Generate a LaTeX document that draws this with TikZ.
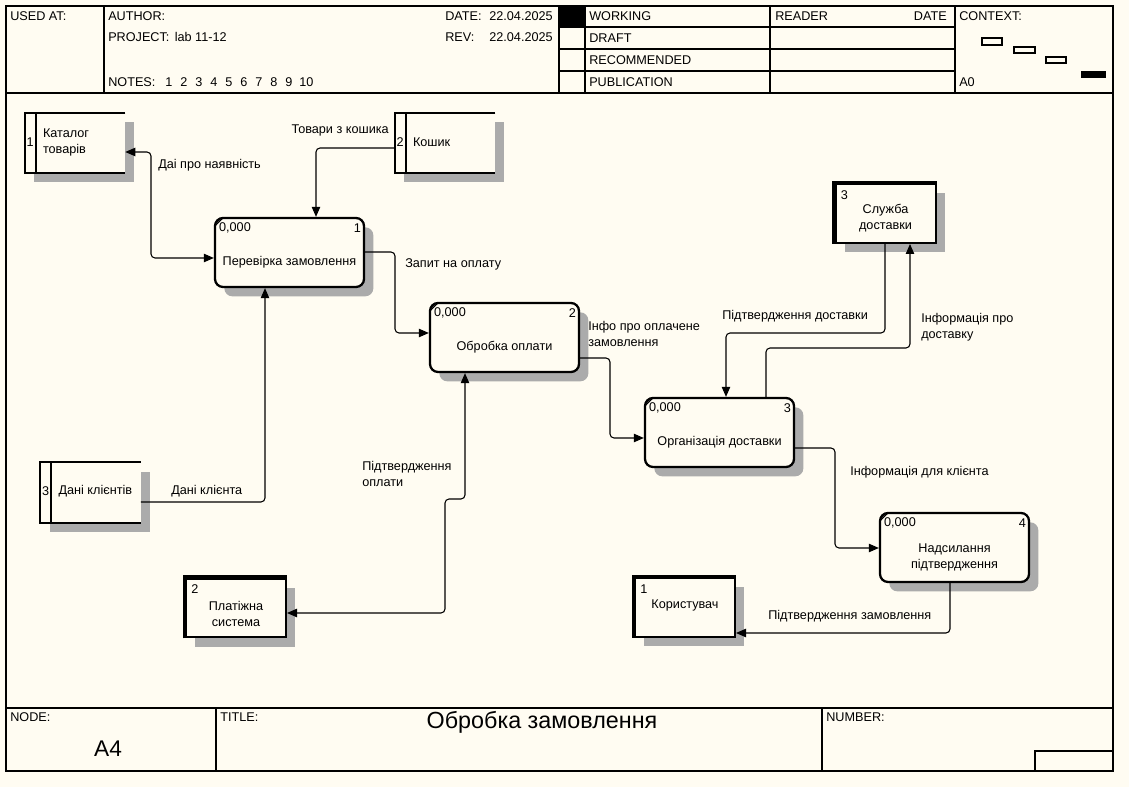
\documentclass[tikz,border=0pt]{standalone}
\usepackage{fontspec}
\setmainfont{Liberation Sans}
\usetikzlibrary{arrows.meta,shadows,calc}
\definecolor{bg}{RGB}{255,252,242}
\begin{document}
\begin{tikzpicture}[x=0.75pt,y=-0.75pt,
  txt/.style={font=\fontsize{9.5}{12}\selectfont, inner sep=0pt, align=left},
  frame/.style={line width=1pt},
  flow/.style={line width=0.8pt, rounded corners=3pt},
  >={Triangle[length=7.5pt,width=6.3pt]},
  shd/.style={drop shadow={shadow xshift=7pt, shadow yshift=-7pt, fill=black!33, opacity=1}},
  proc/.style={rectangle, rounded corners=6pt, draw, line width=1.7pt, fill=bg,
    minimum width=111.75pt, minimum height=51.75pt, inner sep=0pt, shd},
  store/.style={rectangle, draw=none, fill=bg, minimum width=75pt, minimum height=45pt,
    inner sep=0pt, shd},
  storeline/.style={line width=1.5pt},
  ent/.style={rectangle, draw, line width=1.5pt, fill=bg, minimum width=75pt,
    minimum height=44.25pt, inner sep=0pt, shd},
  entthick/.style={line width=3.2pt},
  cornertick/.style={line width=1pt}
]
\fill[bg] (0,0) rectangle (1129,787);
\useasboundingbox (0,0) rectangle (1129,787);

% ---------- frame ----------
\draw[frame] (6,6) rectangle (1113,771);
\draw[frame] (6,93) -- (1113,93);
\draw[frame] (6,708) -- (1113,708);
\foreach \xx in {104,559,585,770,955} \draw[frame] (\xx,6) -- (\xx,93);
\foreach \yy in {27,49,71} \draw[frame] (559,\yy) -- (955,\yy);
\fill (559,6) rectangle (585,27);
\draw[frame] (216,708) -- (216,771);
\draw[frame] (822,708) -- (822,771);
\draw[frame] (1035,771) -- (1035,751) -- (1113,751);
% context
\draw[line width=0.8pt] (982,38) rectangle (1002,45);
\draw[line width=0.8pt] (1014,47) rectangle (1035,53);
\draw[line width=0.8pt] (1046,57) rectangle (1066,63);
\fill (1081,71) rectangle (1106,78);

% ---------- header text ----------
\node[txt, anchor=west] (usedat) at (10,16) {USED AT:};
\node[txt, anchor=west] (author) at (108,16) {AUTHOR:};
\node[txt, anchor=west] (project) at (108,37) {PROJECT:\hspace{4pt}lab 11-12};
\node[txt, anchor=west] (notes) at (108,82) {NOTES:};
\foreach \n/\xx in {1/165,2/180,3/195,4/210,5/225,6/240,7/255,8/270,9/285,10/299}
  \node[txt, anchor=west] (note\n) at (\xx,82) {\n};
\node[txt, anchor=west] (date) at (445,16) {DATE:};
\node[txt, anchor=east] (datev) at (553,16) {22.04.2025};
\node[txt, anchor=west] (rev) at (445,37) {REV:};
\node[txt, anchor=east] (revv) at (553,37) {22.04.2025};
\node[txt, anchor=west] (working) at (589,16) {WORKING};
\node[txt, anchor=west] (draft) at (589,38) {DRAFT};
\node[txt, anchor=west] (recom) at (589,60) {RECOMMENDED};
\node[txt, anchor=west] (public) at (589,82) {PUBLICATION};
\node[txt, anchor=west] (reader) at (775,16) {READER};
\node[txt, anchor=east] (rdate) at (947,16) {DATE};
\node[txt, anchor=west] (context) at (959,16) {CONTEXT:};
\node[txt, anchor=west] (azero) at (959,82) {A0};

% ---------- footer text ----------
\node[txt, anchor=west] (nodelbl) at (10,717) {NODE:};
\node[txt, anchor=west] (titlelbl) at (220,717) {TITLE:};
\node[txt, anchor=west] (numlbl) at (826,717) {NUMBER:};
\node[txt, font=\fontsize{17}{20}\selectfont] (nodeval) at (108,749) {A4};
\node[txt, font=\fontsize{17.5}{20}\selectfont] (title) at (542,722) {Обробка замовлення};

% ---------- data stores ----------
\foreach \nm/\cx/\cy in {S1/75/143, S2/445/143, S3/90.5/492.5} {
  \node[store] (\nm) at (\cx,\cy) {};
  \draw[storeline] (\nm.north east) -- (\nm.north west) -- (\nm.south west) -- (\nm.south east);
  \draw[storeline] ($(\nm.north west)+(11,0)$) -- ($(\nm.south west)+(11,0)$);
}
\node[txt] (s1n) at ($(S1.west)+(5.5,-1)$) {1};
\node[txt, anchor=west] (s1t) at ($(S1.west)+(18,-1)$) {Каталог\\товарів};
\node[txt] (s2n) at ($(S2.west)+(5.5,-1)$) {2};
\node[txt, anchor=west] (s2t) at ($(S2.west)+(18,-1)$) {Кошик};
\node[txt] (s3n) at ($(S3.west)+(5.5,-1)$) {3};
\node[txt, anchor=west] (s3t) at ($(S3.west)+(18,-1)$) {Дані клієнтів};

% ---------- processes ----------
\node[proc] (P1) at (289.5,252.5) {};
\node[proc] (P2) at (504.5,337.5) {};
\node[proc] (P3) at (719.5,432.5) {};
\node[proc] (P4) at (954.5,547.5) {};
\foreach \p/\k in {P1/1,P2/2,P3/3,P4/4} {
  \draw[cornertick] ($(\p.north west)+(1,9)$) -- ($(\p.north west)+(9,1)$);
  \node[txt, anchor=west] (\p c) at ($(\p.north west)+(5,11)$) {0,000};
  \node[txt, anchor=east] (\p k) at ($(\p.north east)+(-4,11)$) {\k};
}
\node[txt, align=center] (P1t) at ($(P1.center)+(0,10)$) {Перевірка замовлення};
\node[txt, align=center] (P2t) at ($(P2.center)+(0,10)$) {Обробка оплати};
\node[txt, align=center] (P3t) at ($(P3.center)+(0,10)$) {Організація доставки};
\node[txt, align=center] (P4t) at ($(P4.center)+(0,10)$) {Надсилання\\підтвердження};

% ---------- external entities ----------
\node[ent] (E1) at (685,607.5) {};
\node[ent] (E2) at (236,608) {};
\node[ent] (E3) at (885.5,213.5) {};
\foreach \e in {E1,E2,E3}
  \draw[entthick] (\e.south west) -- (\e.north west) -- (\e.north east);
\node[txt, anchor=west] (e1n) at ($(E1.north west)+(6,12)$) {1};
\node[txt, align=center] (e1t) at ($(E1.north)+(0,28)$) {Користувач};
\node[txt, anchor=west] (e2n) at ($(E2.north west)+(6,12)$) {2};
\node[txt, align=center] (e2t) at ($(E2.north)+(0,36)$) {Платіжна\\система};
\node[txt, anchor=west] (e3n) at ($(E3.north west)+(6,12)$) {3};
\node[txt, align=center] (e3t) at ($(E3.north)+(0,35)$) {Служба\\доставки};

% ---------- connectors ----------
\draw[flow, <->] (S1.east |- 0,152) -- (151,152) -- (151,258) -- (P1.west |- 0,258);
\draw[flow, ->] (S2.west |- 0,148) -- (316,148) -- (P1.north -| 316,0);
\draw[flow, ->] (P1.east |- 0,252) -- (395,252) -- (395,333) -- (P2.west |- 0,333);
\draw[flow, ->] (S3.east |- 0,502) -- (265,502) -- (P1.south -| 265,0);
\draw[flow, <->] (E2.east |- 0,613) -- (445,613) -- (445,499) -- (465,499) -- (P2.south -| 465,0);
\draw[flow, ->] (P2.east |- 0,358) -- (610,358) -- (610,438) -- (P3.west |- 0,438);
\draw[flow, ->] (E3.south -| 885,0) -- (885,333) -- (726,333) -- (P3.north -| 726,0);
\draw[flow, ->] (P3.north -| 766,0) -- (766,348) -- (910,348) -- (E3.south -| 910,0);
\draw[flow, ->] (P3.east |- 0,448) -- (835,448) -- (835,548) -- (P4.west |- 0,548);
\draw[flow, ->] (P4.south -| 950,0) -- (950,633) -- (E1.east |- 0,633);

% ---------- connector labels ----------
\node[txt, anchor=west] (l1) at (158,165) {Даі про наявність};
\node[txt, anchor=east] (l2) at (389,130) {Товари з кошика};
\node[txt, anchor=west] (l3) at (405,264) {Запит на оплату};
\node[txt, anchor=west] (l4) at (171,491) {Дані клієнта};
\node[txt, anchor=west] (l5) at (362,474) {Підтвердження\\оплати};
\node[txt, anchor=west] (l6) at (588,334) {Інфо про оплачене\\замовлення};
\node[txt, anchor=west] (l7) at (722,316) {Підтвердження доставки};
\node[txt, anchor=west] (l8) at (921,327) {Інформація про\\доставку};
\node[txt, anchor=west] (l9) at (850,472) {Інформація для клієнта};
\node[txt, anchor=west] (l10) at (768,616) {Підтвердження замовлення};
\end{tikzpicture}
\end{document}
